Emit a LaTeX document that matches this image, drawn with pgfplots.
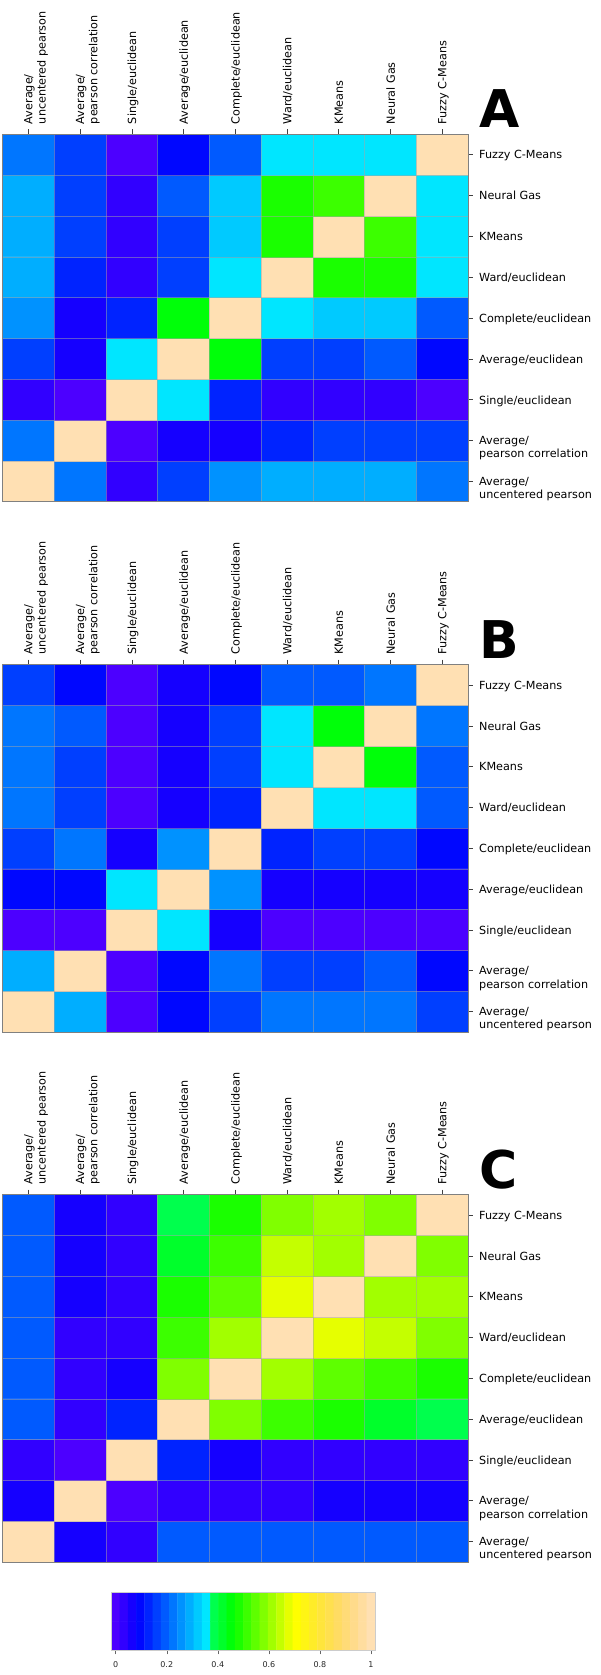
\documentclass[border=0pt]{standalone}
\usepackage{fontspec}
\setmainfont{DejaVu Sans}
\usepackage{pgfplots}
\pgfplotsset{compat=1.18}
\usepackage{pgfplotstable}

\pgfplotsset{
  colormap={topo}{
    rgb255=(76,0,255) rgb255=(49,0,255) rgb255=(21,0,255) rgb255=(0,7,255)
    rgb255=(0,35,255) rgb255=(0,63,255) rgb255=(0,90,255) rgb255=(0,118,255)
    rgb255=(0,146,255) rgb255=(0,174,255) rgb255=(0,202,255) rgb255=(0,230,255)
    rgb255=(0,255,77) rgb255=(0,255,43) rgb255=(0,255,9) rgb255=(26,255,0)
    rgb255=(60,255,0) rgb255=(94,255,0) rgb255=(128,255,0) rgb255=(162,255,0)
    rgb255=(196,255,0) rgb255=(230,255,0) rgb255=(255,255,0) rgb255=(255,245,20)
    rgb255=(255,236,40) rgb255=(255,229,60) rgb255=(255,224,79) rgb255=(255,220,99)
    rgb255=(255,219,119) rgb255=(255,219,139) rgb255=(255,221,159) rgb255=(255,224,179)
  },
  heatmapaxis/.style={
    scale only axis, width=465.5pt, height=367.4pt,
    xmin=-0.5, xmax=8.5, ymin=-0.5, ymax=8.5,
    enlargelimits=false, axis on top,
    colormap name=topo, colormap access=direct,
    xtick={0,...,8}, ytick={0,...,8},
    xticklabels={{Average/\\uncentered pearson},{Average/\\pearson correlation},Single/euclidean,Average/euclidean,Complete/euclidean,Ward/euclidean,KMeans,Neural Gas,Fuzzy C-Means},
    yticklabels={{Average/\\uncentered pearson},{Average/\\pearson correlation},Single/euclidean,Average/euclidean,Complete/euclidean,Ward/euclidean,KMeans,Neural Gas,Fuzzy C-Means},
    xtick pos=right, xticklabel pos=right, ytick pos=right, yticklabel pos=right,
    tick align=outside, major tick length=5pt,
    major tick style={black!75, line width=0.6pt},
    minor xtick={0.5,1.5,...,7.5}, minor ytick={0.5,1.5,...,7.5}, minor tick length=0pt,
    grid=minor, minor grid style={gray!70, opacity=0.5, line width=0.4pt},
    axis line style={gray, line width=0.9pt},
    tick label style={font=\fontsize{11.2}{13.3}\selectfont, align=left, inner sep=0pt},
    xticklabel style={xshift=-4.3pt, rotate=90, anchor=north west},
    yticklabel style={anchor=north west, yshift=4.3pt},
    xticklabel shift=5pt, yticklabel shift=6pt,
  },
  cellplot/.style={matrix plot*, mesh/cols=9, point meta={int(\thisrow{v}*31+0.5)}},
}

\pgfplotstableread[row sep=\\]{
x y v\\
0 0 1\\ 1 0 0.226\\ 2 0 0.032\\ 3 0 0.161\\ 4 0 0.258\\ 5 0 0.290\\ 6 0 0.290\\ 7 0 0.290\\ 8 0 0.226\\
0 1 0.226\\ 1 1 1\\ 2 1 0\\ 3 1 0.065\\ 4 1 0.065\\ 5 1 0.129\\ 6 1 0.161\\ 7 1 0.161\\ 8 1 0.161\\
0 2 0.032\\ 1 2 0\\ 2 2 1\\ 3 2 0.355\\ 4 2 0.129\\ 5 2 0.032\\ 6 2 0.032\\ 7 2 0.032\\ 8 2 0\\
0 3 0.161\\ 1 3 0.065\\ 2 3 0.355\\ 3 3 1\\ 4 3 0.452\\ 5 3 0.161\\ 6 3 0.161\\ 7 3 0.194\\ 8 3 0.097\\
0 4 0.258\\ 1 4 0.065\\ 2 4 0.129\\ 3 4 0.452\\ 4 4 1\\ 5 4 0.355\\ 6 4 0.323\\ 7 4 0.323\\ 8 4 0.194\\
0 5 0.290\\ 1 5 0.129\\ 2 5 0.032\\ 3 5 0.161\\ 4 5 0.355\\ 5 5 1\\ 6 5 0.484\\ 7 5 0.484\\ 8 5 0.355\\
0 6 0.290\\ 1 6 0.161\\ 2 6 0.032\\ 3 6 0.161\\ 4 6 0.323\\ 5 6 0.484\\ 6 6 1\\ 7 6 0.516\\ 8 6 0.355\\
0 7 0.290\\ 1 7 0.161\\ 2 7 0.032\\ 3 7 0.194\\ 4 7 0.323\\ 5 7 0.484\\ 6 7 0.516\\ 7 7 1\\ 8 7 0.355\\
0 8 0.226\\ 1 8 0.161\\ 2 8 0\\ 3 8 0.097\\ 4 8 0.194\\ 5 8 0.355\\ 6 8 0.355\\ 7 8 0.355\\ 8 8 1\\
}\tabA

\pgfplotstableread[row sep=\\]{
x y v\\
0 0 1\\ 1 0 0.290\\ 2 0 0\\ 3 0 0.097\\ 4 0 0.161\\ 5 0 0.226\\ 6 0 0.226\\ 7 0 0.226\\ 8 0 0.161\\
0 1 0.290\\ 1 1 1\\ 2 1 0\\ 3 1 0.097\\ 4 1 0.226\\ 5 1 0.161\\ 6 1 0.161\\ 7 1 0.194\\ 8 1 0.097\\
0 2 0\\ 1 2 0\\ 2 2 1\\ 3 2 0.355\\ 4 2 0.065\\ 5 2 0\\ 6 2 0\\ 7 2 0\\ 8 2 0\\
0 3 0.097\\ 1 3 0.097\\ 2 3 0.355\\ 3 3 1\\ 4 3 0.258\\ 5 3 0.065\\ 6 3 0.065\\ 7 3 0.065\\ 8 3 0.065\\
0 4 0.161\\ 1 4 0.226\\ 2 4 0.065\\ 3 4 0.258\\ 4 4 1\\ 5 4 0.129\\ 6 4 0.161\\ 7 4 0.161\\ 8 4 0.097\\
0 5 0.226\\ 1 5 0.161\\ 2 5 0\\ 3 5 0.065\\ 4 5 0.129\\ 5 5 1\\ 6 5 0.355\\ 7 5 0.355\\ 8 5 0.194\\
0 6 0.226\\ 1 6 0.161\\ 2 6 0\\ 3 6 0.065\\ 4 6 0.161\\ 5 6 0.355\\ 6 6 1\\ 7 6 0.452\\ 8 6 0.194\\
0 7 0.226\\ 1 7 0.194\\ 2 7 0\\ 3 7 0.065\\ 4 7 0.161\\ 5 7 0.355\\ 6 7 0.452\\ 7 7 1\\ 8 7 0.226\\
0 8 0.161\\ 1 8 0.097\\ 2 8 0\\ 3 8 0.065\\ 4 8 0.097\\ 5 8 0.194\\ 6 8 0.194\\ 7 8 0.226\\ 8 8 1\\
}\tabB

\pgfplotstableread[row sep=\\]{
x y v\\
0 0 1\\ 1 0 0.065\\ 2 0 0.032\\ 3 0 0.194\\ 4 0 0.194\\ 5 0 0.194\\ 6 0 0.194\\ 7 0 0.194\\ 8 0 0.194\\
0 1 0.065\\ 1 1 1\\ 2 1 0\\ 3 1 0.032\\ 4 1 0.032\\ 5 1 0.032\\ 6 1 0.065\\ 7 1 0.065\\ 8 1 0.065\\
0 2 0.032\\ 1 2 0\\ 2 2 1\\ 3 2 0.129\\ 4 2 0.065\\ 5 2 0.032\\ 6 2 0.032\\ 7 2 0.032\\ 8 2 0.032\\
0 3 0.194\\ 1 3 0.032\\ 2 3 0.129\\ 3 3 1\\ 4 3 0.581\\ 5 3 0.516\\ 6 3 0.484\\ 7 3 0.419\\ 8 3 0.387\\
0 4 0.194\\ 1 4 0.032\\ 2 4 0.065\\ 3 4 0.581\\ 4 4 1\\ 5 4 0.613\\ 6 4 0.548\\ 7 4 0.516\\ 8 4 0.484\\
0 5 0.194\\ 1 5 0.032\\ 2 5 0.032\\ 3 5 0.516\\ 4 5 0.613\\ 5 5 1\\ 6 5 0.677\\ 7 5 0.645\\ 8 5 0.581\\
0 6 0.194\\ 1 6 0.065\\ 2 6 0.032\\ 3 6 0.484\\ 4 6 0.548\\ 5 6 0.677\\ 6 6 1\\ 7 6 0.613\\ 8 6 0.613\\
0 7 0.194\\ 1 7 0.065\\ 2 7 0.032\\ 3 7 0.419\\ 4 7 0.516\\ 5 7 0.645\\ 6 7 0.613\\ 7 7 1\\ 8 7 0.581\\
0 8 0.194\\ 1 8 0.065\\ 2 8 0.032\\ 3 8 0.387\\ 4 8 0.484\\ 5 8 0.581\\ 6 8 0.613\\ 7 8 0.581\\ 8 8 1\\
}\tabC

\pgfplotstableread[row sep=\\]{
x y\\
0 0\\ 0.0323 0\\ 0.0645 0\\ 0.0968 0\\ 0.1290 0\\ 0.1613 0\\ 0.1935 0\\ 0.2258 0\\
0.2581 0\\ 0.2903 0\\ 0.3226 0\\ 0.3548 0\\ 0.3871 0\\ 0.4194 0\\ 0.4516 0\\ 0.4839 0\\
0.5161 0\\ 0.5484 0\\ 0.5806 0\\ 0.6129 0\\ 0.6452 0\\ 0.6774 0\\ 0.7097 0\\ 0.7419 0\\
0.7742 0\\ 0.8065 0\\ 0.8387 0\\ 0.8710 0\\ 0.9032 0\\ 0.9355 0\\ 0.9677 0\\ 1 0\\
0 1\\ 0.0323 1\\ 0.0645 1\\ 0.0968 1\\ 0.1290 1\\ 0.1613 1\\ 0.1935 1\\ 0.2258 1\\
0.2581 1\\ 0.2903 1\\ 0.3226 1\\ 0.3548 1\\ 0.3871 1\\ 0.4194 1\\ 0.4516 1\\ 0.4839 1\\
0.5161 1\\ 0.5484 1\\ 0.5806 1\\ 0.6129 1\\ 0.6452 1\\ 0.6774 1\\ 0.7097 1\\ 0.7419 1\\
0.7742 1\\ 0.8065 1\\ 0.8387 1\\ 0.8710 1\\ 0.9032 1\\ 0.9355 1\\ 0.9677 1\\ 1 1\\
}\tabBar

\begin{document}
\begin{tikzpicture}
\useasboundingbox (0,0) rectangle (600pt,1675pt);

\begin{axis}[heatmapaxis, at={(2.5pt,1173.3pt)}, anchor=south west]
\addplot[cellplot] table {\tabA};
\end{axis}
\node[anchor=base west, inner sep=0pt, font=\fontsize{52}{52}\selectfont\bfseries] at (479pt,1547pt) {A};

\begin{axis}[heatmapaxis, at={(2.5pt,643pt)}, anchor=south west]
\addplot[cellplot] table {\tabB};
\end{axis}
\node[anchor=base west, inner sep=0pt, font=\fontsize{52}{52}\selectfont\bfseries] at (479pt,1016.7pt) {B};

\begin{axis}[heatmapaxis, at={(2.5pt,113pt)}, anchor=south west]
\addplot[cellplot] table {\tabC};
\end{axis}
\node[anchor=base west, inner sep=0pt, font=\fontsize{52}{52}\selectfont\bfseries] at (479pt,486.3pt) {C};

\begin{axis}[scale only axis, width=263.5pt, height=58pt, at={(111.6pt,24.7pt)}, anchor=south west,
  xmin=-0.016129, xmax=1.016129, ymin=-0.5, ymax=1.5, enlargelimits=false,
  colormap name=topo, colormap access=direct, axis on top,
  xtick={0,0.2,0.4,0.6,0.8,1}, xticklabels={0,0.2,0.4,0.6,0.8,1}, ytick=\empty,
  xtick pos=left, xticklabel pos=left, tick align=outside, major tick length=4pt,
  major tick style={black!60, line width=0.5pt},
  axis line style={gray!40, line width=0.6pt},
  tick label style={font=\fontsize{8}{9}\selectfont, text=black!85},
  xticklabel shift=4pt]
\addplot[matrix plot*, mesh/cols=32, point meta={int(\thisrow{x}*31+0.5)}] table {\tabBar};
\end{axis}
\end{tikzpicture}
\end{document}
